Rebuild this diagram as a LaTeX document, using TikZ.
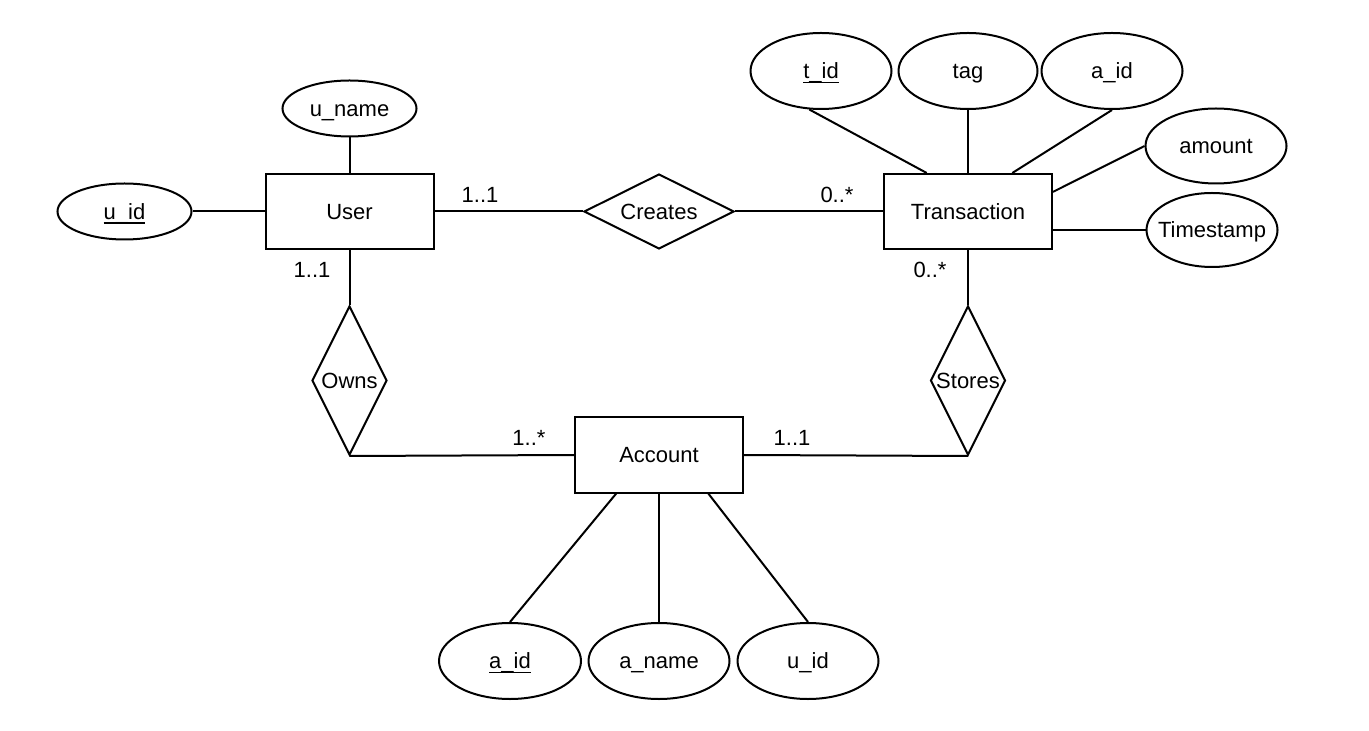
\documentclass[tikz,border=0pt]{standalone}
\usepackage{fontspec}
\setmainfont{Liberation Sans}
\usetikzlibrary{shapes.geometric}

% key attribute: text with an underline set close to the baseline
\newcommand{\keyattr}[1]{\setbox0\hbox{#1}\rlap{\rule[-2.1pt]{\wd0}{0.75pt}}\box0}
% zero-width text, so the shapes keep the sizes given below
\newcommand{\zw}[1]{\makebox[0pt]{#1}}

\begin{document}
\begin{tikzpicture}[x=0.5pt, y=-0.5pt, line width=1pt,
  every node/.style={font=\fontsize{11pt}{13pt}\selectfont, inner sep=0pt,
                     text height=7.9pt, text depth=0pt},
  entity/.style={draw, rectangle, minimum width=84pt, minimum height=37.5pt},
  attr/.style={draw, ellipse, minimum width=70.5pt, minimum height=38pt},
  flatattr/.style={draw, ellipse, minimum width=67pt, minimum height=28pt},
  relh/.style={draw, diamond, minimum width=75pt, minimum height=37.5pt},
  relv/.style={draw, diamond, minimum width=37.5pt, minimum height=74.5pt},
  card/.style={}]

\useasboundingbox (0,0) rectangle (1369,731);

% entities
\node[entity] (user)  at (349.5,211.5) {User};
\node[entity] (trans) at (968,211.5)   {Transaction};
\node[entity] (acc)   at (659,455)     {Account};

% relationships
\node[relh] (creates) at (659,211.5) {\zw{Creates}};
\node[relv] (owns)    at (349.5,380.5) {\zw{Owns}};
\node[relv] (stores)  at (968,380.5)   {\zw{Stores}};

% attributes of User
\node[flatattr] (uid)   at (124.5,211.5) {\zw{\keyattr{u\_id}}};
\node[flatattr] (uname) at (349.5,108.5) {\zw{u\_name}};

% attributes of Transaction
\node[attr] (tid)    at (821,71)   {\zw{\keyattr{t\_id}}};
\node[attr, minimum width=69.5pt] (tag) at (968,71) {\zw{tag}};
\node[attr] (aidt)   at (1112,71)  {\zw{a\_id}};
\node[attr, minimum height=37.5pt] (amount) at (1216,146) {\zw{amount}};
\node[attr, minimum width=65.5pt, minimum height=37pt] (ts) at (1212,230) {\zw{Timestamp}};

% attributes of Account
\node[attr, minimum width=71pt] (aidb) at (510,661) {\zw{\keyattr{a\_id}}};
\node[attr] (aname) at (659,661) {\zw{a\_name}};
\node[attr] (uidb)  at (808,661) {\zw{u\_id}};

% cardinalities
\node[card] (c1) at (480,195) {1..1};
\node[card] (c2) at (837,195) {0..*};
\node[card] (c3) at (312,270) {1..1};
\node[card] (c4) at (930,270) {0..*};
\node[card] (c5) at (529,438) {1..*};
\node[card] (c6) at (792,438) {1..1};

% relationship lines
\draw (user) -- (creates);
\draw (creates) -- (trans);
\draw (user.south) -- (owns.north);
\draw (owns.south) -- (acc.west);
\draw (trans.south) -- (stores.north);
\draw (stores.south) -- (acc.east);

% attribute lines
\draw (uid) -- (user);
\draw (uname.south) -- (user.north);
\draw (tid.253) -- (trans.137);
\draw (tag.south) -- (trans.north);
\draw (aidt.south) -- (trans.41);
\draw (amount.west) -- (trans.13);
\draw (ts.west) -- (ts.west -| trans.east);
\draw (acc.222) -- (aidb.north);
\draw (acc.south) -- (aname.north);
\draw (acc.322) -- (uidb.north);
\end{tikzpicture}
\end{document}
